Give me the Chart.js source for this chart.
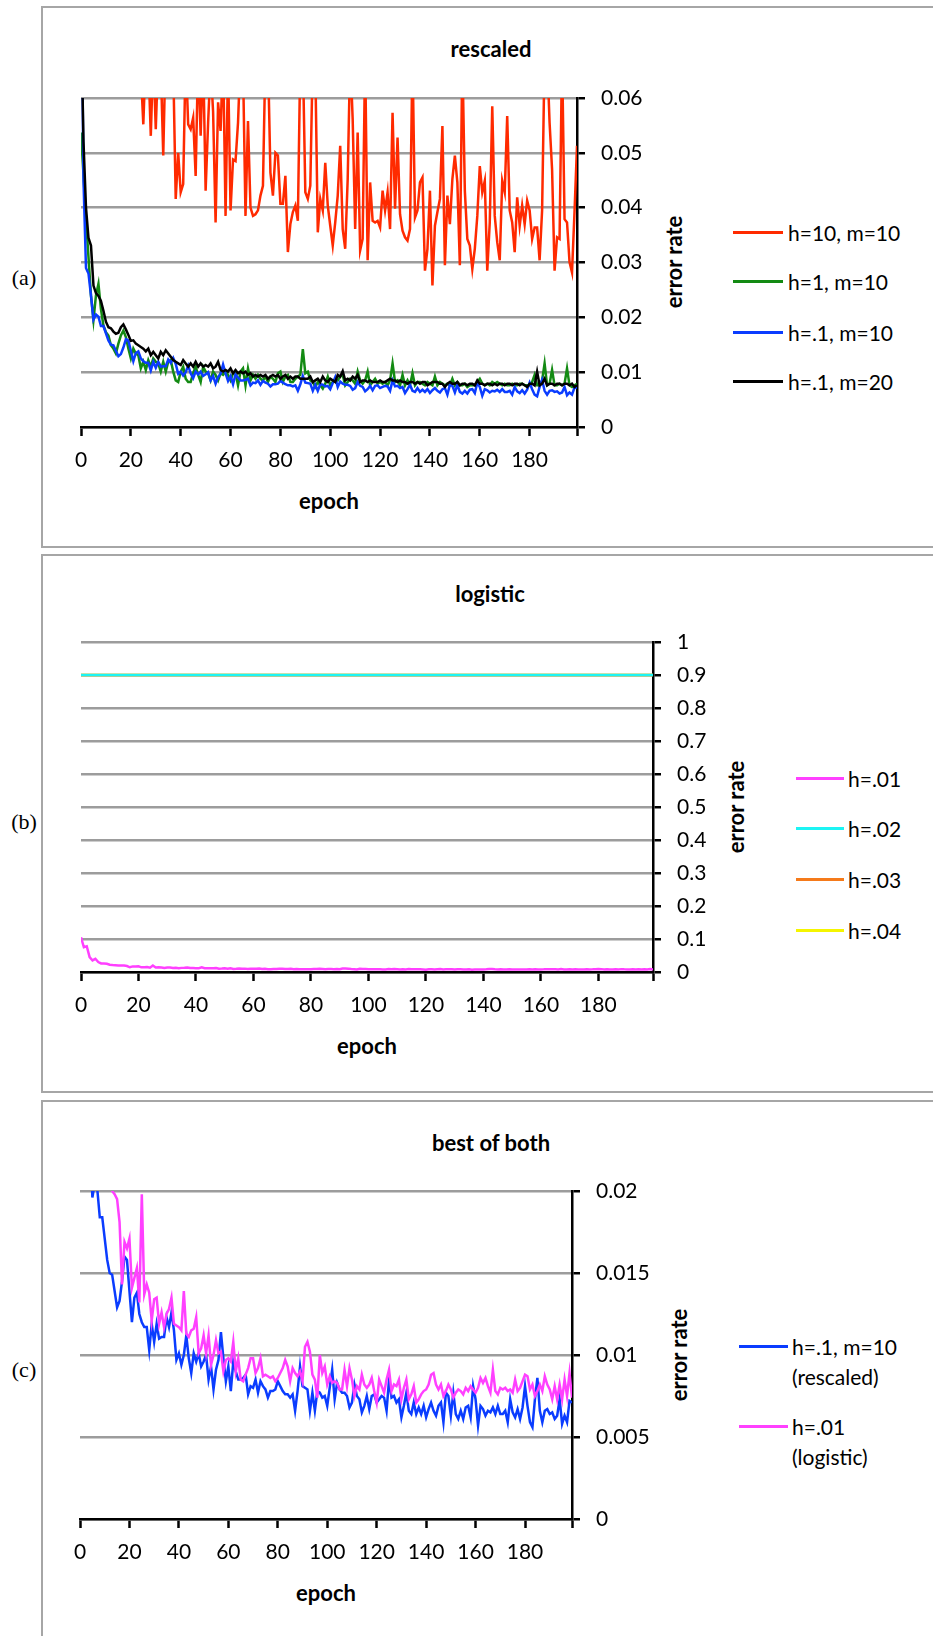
<!DOCTYPE html>
<html>
<head>
<meta charset="utf-8">
<script src="https://cdn.jsdelivr.net/npm/chart.js@4.4.1/dist/chart.umd.min.js"></script>
<style>
  body { margin: 0; background: #fff; width: 933px; height: 1636px; position: relative; overflow: hidden; font-family: Lato, sans-serif; color: #000; }
  .box { position: absolute; left: 41px; width: 1000px; border: 2px solid #a6a6a6; box-sizing: border-box; }
  .t { position: absolute; transform: translate(-50%, -50%); white-space: nowrap; }
  .bold { font-weight: bold; font-size: 22px; }
  .rot { transform: translate(-50%, -50%) rotate(-90deg); }
  .pl { font-family: "Liberation Serif", serif; font-size: 22px; }
  canvas { position: absolute; }
  .lg { position: absolute; font-size: 21px; white-space: pre; line-height: 30px; }
  .lg i { position: absolute; left: 0; top: 13px; height: 3px; }
</style>
</head>
<body>
<div class="box" style="top:6px;height:542px"></div>
<div class="box" style="top:554px;height:539px"></div>
<div class="box" style="top:1100px;height:600px"></div>

<div class="t bold" style="left:491px;top:48px">rescaled</div>
<div class="t bold" style="left:490px;top:593px">logistic</div>
<div class="t bold" style="left:491px;top:1142px">best of both</div>

<div class="t pl" style="left:24px;top:278px">(a)</div>
<div class="t pl" style="left:24px;top:822px">(b)</div>
<div class="t pl" style="left:24px;top:1370px">(c)</div>

<div class="t bold rot" style="left:673px;top:262px">error rate</div>
<div class="t bold rot" style="left:735px;top:807px">error rate</div>
<div class="t bold rot" style="left:678px;top:1355px">error rate</div>

<div class="t bold" style="left:329px;top:500px">epoch</div>
<div class="t bold" style="left:367px;top:1045px">epoch</div>
<div class="t bold" style="left:326px;top:1592px">epoch</div>

<script>
// x axis: epochs, tick every 20, last tick at the axis end
const epochTicks = [0, 20, 40, 60, 80, 100, 120, 140, 160, 180, 199];
const epochLabels = ["0", "20", "40", "60", "80", "100", "120", "140", "160", "180", ""];

const rescaledTicks = [0, 0.01, 0.02, 0.03, 0.04, 0.05, 0.06];
const logisticTicks = [0, 0.1, 0.2, 0.3, 0.4, 0.5, 0.6, 0.7, 0.8, 0.9, 1];
const bestTicks = [0, 0.005, 0.01, 0.015, 0.02];

// (a) rescaled, error rate per epoch (values above 0.06 run off the top)
const redH10M10 = [
  0.11, 0.1, 0.095, 0.09, 0.085, 0.08, 0.078, 0.075, 0.073, 0.07,
  0.072, 0.069, 0.07, 0.068, 0.071, 0.067, 0.069, 0.066, 0.068, 0.065,
  0.067, 0.066, 0.064, 0.066, 0.065, 0.0552, 0.068, 0.067, 0.0531, 0.068,
  0.0543, 0.068, 0.066, 0.0495, 0.07, 0.066, 0.068, 0.066, 0.0416, 0.05,
  0.0428, 0.0443, 0.068, 0.0552, 0.0543, 0.0564, 0.0458, 0.068, 0.0531, 0.068,
  0.0431, 0.0555, 0.066, 0.0575, 0.0373, 0.0592, 0.054, 0.068, 0.0385, 0.066,
  0.0395, 0.0488, 0.0485, 0.0555, 0.068, 0.066, 0.0385, 0.0558, 0.04, 0.0385,
  0.0388, 0.0395, 0.0422, 0.044, 0.068, 0.068, 0.0464, 0.0422, 0.05, 0.0495,
  0.0407, 0.0407, 0.0458, 0.0319, 0.037, 0.0392, 0.0404, 0.0376, 0.068, 0.068,
  0.0428, 0.0416, 0.044, 0.068, 0.066, 0.0355, 0.0416, 0.0395, 0.0482, 0.0404,
  0.0367, 0.0331, 0.0373, 0.0422, 0.0513, 0.0361, 0.0325, 0.0452, 0.068, 0.0561,
  0.0361, 0.0537, 0.0322, 0.0343, 0.068, 0.0304, 0.0446, 0.0376, 0.0373, 0.0376,
  0.0364, 0.0431, 0.0395, 0.0428, 0.0361, 0.0573, 0.0398, 0.0528, 0.0388, 0.0358,
  0.0346, 0.034, 0.0361, 0.068, 0.0382, 0.0395, 0.0446, 0.0455, 0.0285, 0.0325,
  0.0431, 0.0258, 0.0367, 0.0392, 0.0416, 0.0549, 0.0295, 0.0422, 0.037, 0.0452,
  0.0495, 0.0446, 0.0295, 0.068, 0.0431, 0.0343, 0.0331, 0.0288, 0.0325, 0.0385,
  0.0476, 0.0428, 0.0449, 0.0285, 0.0373, 0.0585, 0.0385, 0.0337, 0.0304, 0.0449,
  0.0428, 0.0567, 0.0395, 0.0373, 0.0319, 0.0419, 0.0367, 0.0404, 0.037, 0.0413,
  0.0395, 0.0343, 0.0364, 0.0364, 0.0304, 0.0395, 0.068, 0.068, 0.0555, 0.047,
  0.0285, 0.0346, 0.0343, 0.068, 0.0379, 0.0373, 0.0301, 0.0282, 0.0392, 0.0513
];
const greenH1M10 = [
  0.0537, 0.046, 0.038, 0.031, 0.024, 0.0195, 0.024, 0.0261, 0.0215, 0.0185,
  0.0173, 0.0167, 0.0149, 0.0143, 0.0134, 0.0152, 0.0167, 0.0176, 0.0164, 0.0143,
  0.0125, 0.0143, 0.0134, 0.0131, 0.0107, 0.0119, 0.0104, 0.0122, 0.011, 0.0125,
  0.0119, 0.0116, 0.0101, 0.0119, 0.0101, 0.0119, 0.0122, 0.0101, 0.0085, 0.0082,
  0.0101, 0.011, 0.0088, 0.0082, 0.0082, 0.0098, 0.011, 0.0095, 0.0082, 0.011,
  0.0101, 0.0098, 0.0085, 0.0101, 0.0095, 0.0085, 0.0098, 0.0095, 0.0101, 0.0095,
  0.0085, 0.0098, 0.0098, 0.0076, 0.0101, 0.0107, 0.0076, 0.0107, 0.0085, 0.0095,
  0.0088, 0.0095, 0.0088, 0.0085, 0.0092, 0.0082, 0.0092, 0.0088, 0.0082, 0.0098,
  0.0101, 0.0082, 0.0092, 0.0095, 0.0082, 0.0082, 0.0088, 0.0092, 0.0095, 0.0142,
  0.0098, 0.0101, 0.0085, 0.0082, 0.0073, 0.0082, 0.0076, 0.007, 0.0079, 0.0092,
  0.0076, 0.0082, 0.0085, 0.0085, 0.0092, 0.0095, 0.0076, 0.0082, 0.0088, 0.0085,
  0.0079, 0.0101, 0.0085, 0.0079, 0.0085, 0.0101, 0.0076, 0.0082, 0.0088, 0.0079,
  0.0082, 0.0079, 0.0082, 0.0076, 0.0085, 0.0116, 0.0082, 0.0085, 0.0076, 0.0095,
  0.0076, 0.0085, 0.0076, 0.0098, 0.0076, 0.0082, 0.0082, 0.0079, 0.0076, 0.0082,
  0.0079, 0.0076, 0.0092, 0.0076, 0.0082, 0.0079, 0.0076, 0.0079, 0.0076, 0.0088,
  0.0076, 0.0082, 0.0076, 0.0076, 0.0079, 0.0073, 0.0076, 0.0076, 0.0076, 0.0082,
  0.0088, 0.0079, 0.0076, 0.0079, 0.0076, 0.0082, 0.0079, 0.0082, 0.0079, 0.0076,
  0.0079, 0.0076, 0.0076, 0.0079, 0.0076, 0.0076, 0.0079, 0.0079, 0.0076, 0.0076,
  0.0076, 0.0082, 0.0095, 0.0076, 0.0076, 0.0085, 0.0116, 0.0076, 0.0079, 0.0104,
  0.0076, 0.0076, 0.0079, 0.0076, 0.0079, 0.0107, 0.0076, 0.0073, 0.0076, 0.0079
];
// h=.1, m=10 (rescaled) is shown in (a) and again in (c)
const blueH01M10 = [
  0.09, 0.045, 0.029, 0.028, 0.024, 0.0196, 0.0205, 0.0201, 0.0184, 0.0184,
  0.0171, 0.0158, 0.015, 0.0149, 0.0139, 0.0129, 0.0133, 0.0145, 0.016, 0.0158,
  0.0139, 0.012, 0.0135, 0.0138, 0.0125, 0.012, 0.0117, 0.0117, 0.0103, 0.0119,
  0.0108, 0.0119, 0.011, 0.0111, 0.0111, 0.0123, 0.0117, 0.0126, 0.0115, 0.0097,
  0.0101, 0.0094, 0.01, 0.0112, 0.0098, 0.0089, 0.0101, 0.0096, 0.0101, 0.0093,
  0.0096, 0.01, 0.0085, 0.0093, 0.0079, 0.0091, 0.0097, 0.0114, 0.0098, 0.0084,
  0.0093, 0.0078, 0.0096, 0.009, 0.0085, 0.0085, 0.0086, 0.0088, 0.0076, 0.0081,
  0.008, 0.0085, 0.0077, 0.0084, 0.0081, 0.0079, 0.0074, 0.0078, 0.0078, 0.0079,
  0.0084, 0.0081, 0.0078, 0.0076, 0.0076, 0.0074, 0.0076, 0.0066, 0.0078, 0.0093,
  0.0081, 0.008, 0.0079, 0.0066, 0.0077, 0.0066, 0.0078, 0.0077, 0.0074, 0.0075,
  0.0069, 0.008, 0.0091, 0.0073, 0.0083, 0.0079, 0.0077, 0.0077, 0.0075, 0.0068,
  0.0071, 0.0082, 0.0075, 0.0073, 0.0065, 0.0069, 0.0075, 0.0067, 0.0075, 0.0076,
  0.0071, 0.0073, 0.0075, 0.0074, 0.0066, 0.0085, 0.0074, 0.0075, 0.0071, 0.0073,
  0.0062, 0.0069, 0.0077, 0.0066, 0.0064, 0.0071, 0.0064, 0.0068, 0.0064, 0.0069,
  0.0062, 0.0067, 0.0071, 0.0066, 0.0063, 0.0069, 0.0071, 0.0059, 0.0077, 0.0075,
  0.0063, 0.0077, 0.0064, 0.0061, 0.0066, 0.0061, 0.0068, 0.0069, 0.0062, 0.0081,
  0.0073, 0.0057, 0.0069, 0.0067, 0.0063, 0.0066, 0.0065, 0.0068, 0.0064, 0.0069,
  0.0064, 0.0064, 0.0066, 0.0059, 0.0073, 0.0065, 0.0062, 0.0067, 0.0061, 0.0068,
  0.0081, 0.0069, 0.0059, 0.0056, 0.0073, 0.0086, 0.0066, 0.0059, 0.0066, 0.0067,
  0.0064, 0.0065, 0.0061, 0.0063, 0.0073, 0.0058, 0.0063, 0.0059, 0.0072, 0.0071
];
const blackH01M20 = [
  0.075, 0.052, 0.04, 0.0345, 0.0331, 0.0258, 0.0244, 0.0239, 0.023, 0.0212,
  0.0192, 0.0182, 0.018, 0.0174, 0.017, 0.0172, 0.0182, 0.0187, 0.0178, 0.0168,
  0.0157, 0.0158, 0.0152, 0.0149, 0.0146, 0.0143, 0.0138, 0.0143, 0.0131, 0.0137,
  0.0131, 0.0125, 0.0137, 0.0131, 0.014, 0.0134, 0.0128, 0.0122, 0.0119, 0.0116,
  0.0113, 0.0122, 0.0116, 0.011, 0.0116, 0.011, 0.0119, 0.011, 0.0116, 0.011,
  0.0113, 0.011, 0.0116, 0.0107, 0.011, 0.0119, 0.0104, 0.0101, 0.0104, 0.0101,
  0.0107, 0.0098, 0.0104, 0.0098, 0.0101, 0.0098, 0.0101, 0.0095, 0.0098, 0.0092,
  0.0095, 0.0092, 0.0095, 0.0092, 0.0095, 0.0088, 0.0092, 0.0095, 0.0092, 0.0095,
  0.0088, 0.0092, 0.0095, 0.0088, 0.0092, 0.0088, 0.0092, 0.0092, 0.0088, 0.0088,
  0.0088, 0.0088, 0.0092, 0.0082, 0.0085, 0.0088, 0.0082, 0.0092, 0.0085, 0.0082,
  0.0088, 0.0085, 0.0082, 0.0095, 0.0092, 0.0102, 0.0085, 0.0088, 0.0085, 0.0092,
  0.0088, 0.0095, 0.0082, 0.0085, 0.0085, 0.0082, 0.0085, 0.0082, 0.0082, 0.0082,
  0.0085, 0.0082, 0.0082, 0.0085, 0.0088, 0.0085, 0.0085, 0.0082, 0.0085, 0.0082,
  0.0082, 0.0079, 0.0082, 0.0082, 0.0079, 0.0082, 0.0079, 0.0082, 0.0082, 0.0076,
  0.0079, 0.0082, 0.0082, 0.0082, 0.0079, 0.0079, 0.0073, 0.0079, 0.0082, 0.0079,
  0.0079, 0.0082, 0.0076, 0.0079, 0.0079, 0.0076, 0.0079, 0.0079, 0.0076, 0.0085,
  0.0079, 0.0079, 0.0076, 0.0079, 0.0079, 0.0076, 0.0079, 0.0076, 0.0079, 0.0079,
  0.0076, 0.0079, 0.0079, 0.0076, 0.0079, 0.0079, 0.0076, 0.0079, 0.0076, 0.0073,
  0.0079, 0.0079, 0.0076, 0.0101, 0.0076, 0.0079, 0.0088, 0.0076, 0.0079, 0.0079,
  0.0076, 0.0079, 0.0079, 0.0076, 0.0079, 0.0079, 0.0076, 0.0079, 0.0073, 0.0076
];

// (b) logistic; h=.01 is shown in (b) and again in (c)
const magentaH001 = [
  0.105, 0.075, 0.078, 0.045, 0.035, 0.04, 0.03, 0.026, 0.026, 0.025,
  0.022, 0.021, 0.0205, 0.02, 0.0198, 0.0195, 0.0181, 0.0143, 0.0169, 0.0165,
  0.0171, 0.0141, 0.0147, 0.0153, 0.0132, 0.0198, 0.0137, 0.0143, 0.0138, 0.0121,
  0.0134, 0.0135, 0.0119, 0.0126, 0.0117, 0.0125, 0.0128, 0.0135, 0.0119, 0.0118,
  0.0117, 0.0115, 0.0139, 0.0113, 0.0111, 0.0115, 0.0116, 0.0123, 0.0101, 0.0104,
  0.0112, 0.0101, 0.0112, 0.0094, 0.01, 0.0109, 0.0101, 0.0102, 0.009, 0.0097,
  0.0098, 0.0096, 0.0108, 0.009, 0.0098, 0.0085, 0.0084, 0.0088, 0.0092, 0.0098,
  0.0098, 0.0089, 0.0092, 0.0098, 0.0087, 0.0088, 0.0087, 0.0086, 0.0087, 0.0084,
  0.0086, 0.0089, 0.0092, 0.0097, 0.0093, 0.0084, 0.0092, 0.0089, 0.0087, 0.009,
  0.0084, 0.0105, 0.0108, 0.0102, 0.0088, 0.0085, 0.0074, 0.01, 0.0089, 0.0093,
  0.0082, 0.0087, 0.0083, 0.0084, 0.0083, 0.0079, 0.0079, 0.0091, 0.0081, 0.0092,
  0.0085, 0.0075, 0.0081, 0.0079, 0.0088, 0.0082, 0.008, 0.0082, 0.0086, 0.0078,
  0.0071, 0.0085, 0.0081, 0.0077, 0.0085, 0.0091, 0.0078, 0.0082, 0.0081, 0.0085,
  0.0073, 0.008, 0.0085, 0.0073, 0.0076, 0.0081, 0.0071, 0.0073, 0.0076, 0.0078,
  0.0079, 0.0082, 0.0088, 0.0089, 0.0082, 0.0079, 0.0082, 0.0075, 0.0078, 0.0082,
  0.0079, 0.0074, 0.0077, 0.0079, 0.0078, 0.0076, 0.008, 0.0078, 0.0081, 0.0079,
  0.0077, 0.008, 0.0086, 0.0083, 0.0086, 0.0081, 0.0077, 0.0091, 0.0078, 0.0076,
  0.008, 0.0079, 0.008, 0.0078, 0.0079, 0.0077, 0.0085, 0.0078, 0.008, 0.0084,
  0.0088, 0.0087, 0.0079, 0.0082, 0.0075, 0.0078, 0.0082, 0.0078, 0.0087, 0.0082,
  0.0079, 0.0073, 0.0081, 0.0073, 0.0082, 0.0073, 0.0085, 0.0075, 0.0089, 0.0074
];
// h=.02, .03, .04 stay flat at 0.9 over the whole run (cyan drawn on top)
const flatEpochs = [0, 199];
const cyanH002 = [0.9, 0.9];
const orangeH003 = [0.9, 0.9];
const yellowH004 = [0.9, 0.9];

const FONT = { family: "Lato", size: 21 };
// room above the plot: must exceed half a tick label plus the tick padding
const TOP_ROOM = 34;

function toPoints(values, xs) {
  return values.map((v, i) => ({ x: xs ? xs[i] : i, y: v }));
}

function makePanel(cfg) {
  const area = cfg.area;
  const x = area.left - 21;
  const y = area.top - TOP_ROOM;
  const w = cfg.width;
  const h = area.bottom + 74 - y;

  const cv = document.createElement("canvas");
  cv.width = w;
  cv.height = h;
  Object.assign(cv.style, { left: x + "px", top: y + "px", width: w + "px", height: h + "px" });
  document.body.appendChild(cv);

  const want = { left: 21, top: TOP_ROOM, right: area.right - x, bottom: area.bottom - y };
  const pad = { left: want.left, top: want.top, right: 0, bottom: 0 };
  let yWidth = w - want.right;
  let xHeight = h - want.bottom;

  const chart = new Chart(cv, {
    type: "line",
    data: {
      datasets: cfg.series.map((s) => ({
        label: s.label,
        data: toPoints(s.values, s.epochs),
        borderColor: s.color,
        backgroundColor: s.color,
        borderWidth: 2.5,
        pointRadius: 0,
        tension: 0,
        fill: false,
        order: s.order,
      })),
    },
    options: {
      responsive: false,
      animation: false,
      devicePixelRatio: 1,
      layout: { autoPadding: false, padding: pad },
      plugins: { legend: { display: false }, tooltip: { enabled: false } },
      scales: {
        x: {
          type: "linear",
          min: 0,
          max: 199,
          afterFit: (s) => { s.height = xHeight; },
          afterBuildTicks: (s) => { s.ticks = epochTicks.map((v) => ({ value: v })); },
          grid: { drawOnChartArea: false, drawTicks: true, tickLength: 9, tickColor: "#000", tickWidth: 2.5 },
          border: { color: "#000", width: 2.5 },
          ticks: { font: FONT, color: "#000", padding: 12, maxRotation: 0, autoSkip: false,
                   callback: (v, i) => epochLabels[i] },
        },
        y: {
          position: "right",
          min: 0,
          max: cfg.yMax,
          afterFit: (s) => { s.width = yWidth; },
          afterBuildTicks: (s) => { s.ticks = cfg.yTicks.map((v) => ({ value: v })); },
          grid: { color: "#9c9c9c", lineWidth: 2.5, drawTicks: true, tickLength: 8, tickColor: "#000", tickWidth: 2.5 },
          border: { color: "#000", width: 2.5 },
          ticks: { font: FONT, color: "#000", padding: 16, autoSkip: false,
                   callback: (v) => String(Number(v.toFixed(4))) },
        },
      },
    },
  });

  // correct the bottom and right edges if the layout drifted
  for (let k = 0; k < 4; k++) {
    const ca = chart.chartArea;
    const dB = want.bottom - ca.bottom;
    const dR = want.right - ca.right;
    if (Math.abs(dB) < 0.5 && Math.abs(dR) < 0.5) break;
    xHeight -= dB;
    yWidth -= dR;
    chart.update("none");
  }
  // and shift the canvas if the top or left edge is not where it should be
  const ca = chart.chartArea;
  cv.style.left = Math.round(area.left - ca.left) + "px";
  cv.style.top = Math.round(area.top - ca.top) + "px";

  // legend, built from the datasets in their listed order
  const lg = cfg.legend;
  chart.data.datasets.forEach((ds, i) => {
    const item = document.createElement("div");
    item.className = "lg";
    item.style.left = lg.lineLeft + "px";
    item.style.top = (lg.rows[i] - 15) + "px";
    item.style.paddingLeft = (lg.textLeft - lg.lineLeft) + "px";
    item.textContent = ds.label;
    const line = document.createElement("i");
    line.style.width = lg.lineWidth + "px";
    line.style.background = ds.borderColor;
    item.appendChild(line);
    document.body.appendChild(item);
  });
}

makePanel({
  width: 640,
  area: { left: 81, right: 577, top: 98, bottom: 427 },
  yMax: 0.06,
  yTicks: rescaledTicks,
  series: [
    { label: "h=10, m=10", values: redH10M10, color: "#ff2a00", order: 3 },
    { label: "h=1, m=10", values: greenH1M10, color: "#138a13", order: 2 },
    { label: "h=.1, m=10", values: blueH01M10, color: "#0a3cff", order: 1 },
    { label: "h=.1, m=20", values: blackH01M20, color: "#000000", order: 0 },
  ],
  legend: { lineLeft: 733, lineWidth: 50, textLeft: 788, rows: [233, 282, 333, 382] },
});

makePanel({
  width: 720,
  area: { left: 81, right: 653, top: 642, bottom: 972 },
  yMax: 1,
  yTicks: logisticTicks,
  series: [
    { label: "h=.01", values: magentaH001, color: "#ff40ff", order: 0 },
    { label: "h=.02", values: cyanH002, epochs: flatEpochs, color: "#1cf4f4", order: 1 },
    { label: "h=.03", values: orangeH003, epochs: flatEpochs, color: "#f57a1a", order: 2 },
    { label: "h=.04", values: yellowH004, epochs: flatEpochs, color: "#f5f500", order: 3 },
  ],
  legend: { lineLeft: 796, lineWidth: 48, textLeft: 848, rows: [779, 829, 880, 931] },
});

makePanel({
  width: 640,
  area: { left: 80, right: 572, top: 1191, bottom: 1519 },
  yMax: 0.02,
  yTicks: bestTicks,
  series: [
    { label: "h=.1, m=10\n(rescaled)", values: blueH01M10, color: "#0a3cff", order: 1 },
    { label: "h=.01\n(logistic)", values: magentaH001, color: "#ff40ff", order: 0 },
  ],
  legend: { lineLeft: 739, lineWidth: 49, textLeft: 792, rows: [1347, 1427] },
});
</script>
</body>
</html>
